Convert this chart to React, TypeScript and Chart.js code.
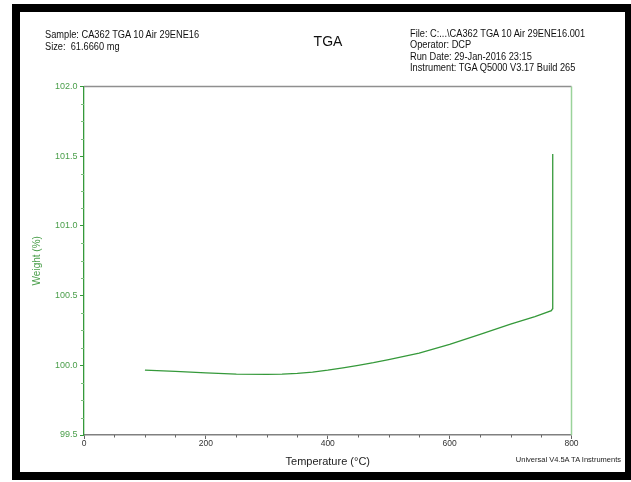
import React, { useEffect, useRef } from "react";
import { Chart, registerables } from "chart.js";

Chart.register(...registerables);

// Data
const temperatures = [100, 150, 200, 250, 300, 325, 350, 375, 400, 425, 450, 475, 500, 550, 600, 650, 700, 740, 767, 769, 769.2];
const weights = [99.965, 99.956, 99.945, 99.937, 99.935, 99.937, 99.942, 99.951, 99.965, 99.982, 100.0, 100.019, 100.041, 100.088, 100.15, 100.222, 100.295, 100.35, 100.392, 100.407, 101.515];

const xTickValues = [0, 200, 400, 600, 800];
const yTickValues = [99.5, 100.0, 100.5, 101.0, 101.5, 102.0];

const headerLeft = ["Sample: CA362 TGA 10 Air 29ENE16", "Size:  61.6660 mg"];
const headerRight = [
  "File: C:...\\CA362 TGA 10 Air 29ENE16.001",
  "Operator: DCP",
  "Run Date: 29-Jan-2016 23:15",
  "Instrument: TGA Q5000 V3.17 Build 265",
];
const titleText = "TGA";
const xTitle = "Temperature (°C)";
const yTitle = "Weight (%)";
const footer = "Universal V4.5A TA Instruments";

const GREEN = "#35993a";
const LABEL_GREEN = "#4a9e4a";
const FONT = "'Liberation Sans', Arial, sans-serif";

const framePlugin = {
  id: "tgaFrame",
  afterDraw(chart: any) {
    const { ctx, chartArea, scales } = chart;
    const x = scales.x;
    const y = scales.y;
    ctx.save();
    // top border
    ctx.strokeStyle = "#8f8f8f";
    ctx.lineWidth = 1.5;
    ctx.beginPath();
    ctx.moveTo(chartArea.left, chartArea.top);
    ctx.lineTo(chartArea.right, chartArea.top);
    ctx.stroke();
    // right border
    ctx.strokeStyle = "#9ad39a";
    ctx.beginPath();
    ctx.moveTo(chartArea.right, chartArea.top);
    ctx.lineTo(chartArea.right, chartArea.bottom);
    ctx.stroke();
    // minor ticks x (every 50)
    ctx.lineWidth = 1;
    ctx.strokeStyle = "#666";
    for (let v = 50; v < 800; v += 50) {
      if (v % 200 === 0) continue;
      const px = Math.round(x.getPixelForValue(v)) + 0.5;
      ctx.beginPath();
      ctx.moveTo(px, chartArea.bottom);
      ctx.lineTo(px, chartArea.bottom + 2.5);
      ctx.stroke();
    }
    // minor ticks y (every 0.125)
    ctx.strokeStyle = "#7cbf7c";
    for (let i = 1; i < 20; i++) {
      if (i % 4 === 0) continue;
      const v = 99.5 + i * 0.125;
      const py = Math.round(y.getPixelForValue(v)) + 0.5;
      ctx.beginPath();
      ctx.moveTo(chartArea.left - 3, py);
      ctx.lineTo(chartArea.left, py);
      ctx.stroke();
    }
    ctx.restore();
  },
};

export default function App() {
  const canvasRef = useRef<HTMLCanvasElement | null>(null);

  useEffect(() => {
    if (!canvasRef.current) return;
    const chart = new Chart(canvasRef.current, {
      type: "scatter",
      data: {
        datasets: [
          {
            data: temperatures.map((t, i) => ({ x: t, y: weights[i] })),
            showLine: true,
            borderColor: GREEN,
            borderWidth: 1.3,
            pointRadius: 0,
            tension: 0,
            fill: false,
          },
        ],
      },
      options: {
        responsive: false,
        animation: false,
        events: [],
        layout: { padding: { left: 20, top: 86.5, right: 59.5, bottom: 7 } },
        plugins: {
          legend: { display: false },
          tooltip: { enabled: false },
          title: { display: false },
        },
        scales: {
          x: {
            type: "linear",
            min: 0,
            max: 800,
            afterBuildTicks: (s: any) => {
              s.ticks = xTickValues.map((v) => ({ value: v }));
            },
            afterFit: (s: any) => {
              s.height = 40;
            },
            ticks: {
              color: "#333",
              font: { family: FONT, size: 8.5 },
              padding: 0,
              maxRotation: 0,
              autoSkip: false,
              callback: (v: any) => String(v),
            },
            grid: { drawOnChartArea: false, drawTicks: true, tickLength: 4, color: "#666" },
            border: { display: true, color: "#808080", width: 1.5 },
            title: {
              display: true,
              text: xTitle,
              color: "#222",
              font: { family: FONT, size: 11 },
              padding: { top: 0, bottom: 6.7 },
            },
          },
          y: {
            type: "linear",
            min: 99.5,
            max: 102,
            afterBuildTicks: (s: any) => {
              s.ticks = yTickValues.map((v) => ({ value: v }));
            },
            afterFit: (s: any) => {
              s.width = 64;
            },
            ticks: {
              color: LABEL_GREEN,
              font: { family: FONT, size: 9 },
              padding: 2.5,
              autoSkip: false,
              callback: (v: any) => Number(v).toFixed(1),
            },
            grid: { drawOnChartArea: false, drawTicks: true, tickLength: 4, color: GREEN },
            border: { display: true, color: GREEN, width: 1.3 },
            title: {
              display: true,
              text: yTitle,
              color: LABEL_GREEN,
              font: { family: FONT, size: 10 },
              padding: { top: 11, bottom: 0 },
            },
          },
        },
      },
      plugins: [framePlugin],
    } as any);
    return () => chart.destroy();
  }, []);

  const textBase: React.CSSProperties = {
    position: "absolute",
    fontFamily: FONT,
    color: "#111",
    whiteSpace: "pre",
    margin: 0,
  };
  const squeeze: React.CSSProperties = { transform: "scaleX(0.925)", transformOrigin: "0 0" };

  return (
    <div style={{ position: "fixed", left: 0, top: 0, width: 631, height: 482, background: "#fff", overflow: "hidden" }}>
      <div style={{ position: "absolute", left: 12, top: 4, width: 619, height: 476, background: "#000" }} />
      <div style={{ position: "absolute", left: 20, top: 12, width: 605, height: 460, background: "#fff" }} />
      <canvas ref={canvasRef} width={631} height={482} style={{ position: "absolute", left: 0, top: 0, width: 631, height: 482 }} />
      <div style={{ ...textBase, ...squeeze, left: 45, top: 29.4, fontSize: 10, lineHeight: "11.5px" }}>
        {headerLeft.map((l, i) => (
          <div key={i}>{l}</div>
        ))}
      </div>
      <div style={{ ...textBase, left: 278, width: 100, textAlign: "center", top: 34.2, fontSize: 14, lineHeight: "14px" }}>
        {titleText}
      </div>
      <div style={{ ...textBase, ...squeeze, left: 410, top: 27.7, fontSize: 10, lineHeight: "11.4px" }}>
        {headerRight.map((l, i) => (
          <div key={i}>{l}</div>
        ))}
      </div>
      <div style={{ ...textBase, right: 10, top: 455.6, fontSize: 7.5, lineHeight: "7.5px", color: "#222" }}>{footer}</div>
    </div>
  );
}
